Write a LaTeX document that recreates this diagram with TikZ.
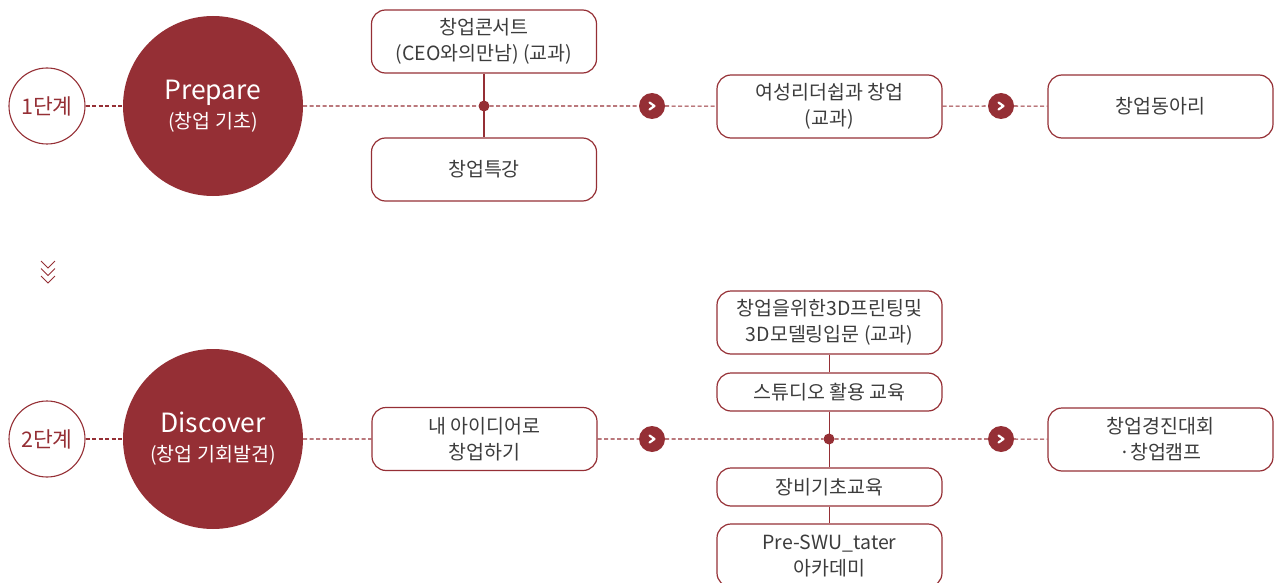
\documentclass[tikz,border=0pt]{standalone}
\usepackage{fontspec}
\setmainfont{Noto Sans CJK KR}
\definecolor{wine}{HTML}{952F35}
\definecolor{ink}{HTML}{3C3C3C}

\begin{document}
\begin{tikzpicture}[x=1pt,y=-1pt,
	  stage/.style={circle,draw=wine,line width=1.1pt,minimum size=76pt,inner sep=0pt,text=wine,font=\fontsize{21.5}{24}\selectfont},
	  phase/.style={circle,fill=wine,minimum size=180pt,inner sep=0pt,text=white,align=center,font=\fontsize{19.5}{29}\selectfont},
	  course/.style={draw=wine,line width=1.2pt,rounded corners=14pt,minimum width=225pt,minimum height=63pt,inner sep=0pt,text=ink,align=center,font=\fontsize{19.5}{26}\selectfont},
	  thin/.style={course,minimum height=38pt},
	  link/.style={wine,line width=1.1pt,dash pattern=on 4pt off 2.5pt},
	  stem/.style={wine,line width=1.2pt},
	  joint/.style={circle,fill=wine,minimum size=11pt,inner sep=0pt},
	  next/.style={circle,fill=wine,minimum size=26pt,inner sep=0pt,
	    path picture={\draw[white,line width=2.2pt,line cap=round,line join=round]
	      ([xshift=-2.5pt,yshift=3.5pt]path picture bounding box.center) -- ++(5pt,-3.5pt) -- ++(-5pt,-3.5pt);}}]
	  \useasboundingbox (0,0) rectangle (1277,583);

	  \node [stage] (s1) at (47,106) {1단계};
	  \node [phase] (prep) at (213,106) {{\fontsize{26.5}{30}\selectfont Prepare}\\(창업 기초)};
	  \node [course] (concert) at (484,41.5) {창업콘서트\\(CEO와의만남) (교과)};
	  \node [course] (special) at (484,169.5) {창업특강};
	  \node [joint] (j1) at (484,106) {};
	  \node [next] (a1) at (652,106) {};
	  \node [course] (women) at (829.5,106.5) {여성리더쉽과 창업\\(교과)};
	  \node [next] (a2) at (1001,106) {};
	  \node [course] (club) at (1160.5,106.5) {창업동아리};

	  \foreach \k in {0,1,2}
	    \draw [wine,line width=1pt] (41,261+7.5*\k) -- (48,268+7.5*\k) -- (55,261+7.5*\k);

	  \node [stage] (s2) at (47,439) {2단계};
	  \node [phase] (disc) at (213,439) {{\fontsize{26.5}{30}\selectfont Discover}\\(창업 기회발견)};
	  \node [course] (idea) at (484.5,439) {내 아이디어로\\창업하기};
	  \node [next] (a3) at (652,439) {};
	  \node [joint] (j2) at (829,439) {};
	  \node [course] (print) at (829.5,322.5) {창업을위한3D프린팅및\\3D모델링입문 (교과)};
	  \node [thin] (studio) at (829.5,392) {스튜디오 활용 교육};
	  \node [thin] (equip) at (829.5,487) {장비기초교육};
	  \node [course] (pre) at (829.5,555.5) {Pre-SWU\_tater\\아카데미};
	  \node [next] (a4) at (1001,439) {};
	  \node [course] (contest) at (1160.5,439.5) {창업경진대회\\·창업캠프};

	  \draw [link] (s1) -- (prep);
	  \draw [link] (prep) -- (j1) -- (a1) -- (women) -- (a2) -- (club);
	  \draw [stem] (concert) -- (special);
	  \draw [link] (s2) -- (disc);
	  \draw [link] (disc) -- (idea) -- (a3) -- (j2) -- (a4) -- (contest);
	  \draw [stem] (print) -- (studio) -- (equip) -- (pre);
	 \end{tikzpicture}
\end{document}
